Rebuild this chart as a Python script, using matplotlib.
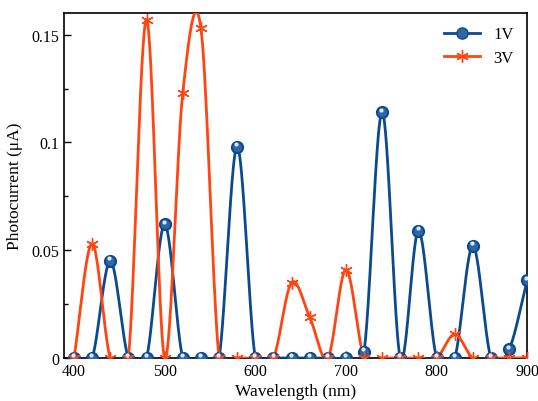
import numpy as np
import matplotlib
matplotlib.use("Agg")
from matplotlib import pyplot as plt

# Daten
wavelength = list(range(400, 901, 20))
current_1v = [0, 0, 0.045, 0, 0, 0.062, 0, 0, 0, 0.098, 0, 0, 0, 0, 0, 0,
              0.003, 0.114, 0, 0.059, 0, 0, 0.052, 0, 0.004, 0.036]
current_3v = [0, 0.053, 0, 0, 0.157, 0, 0.123, 0.153, 0, 0, 0, 0, 0.035, 0.019,
              0, 0.041, 0, 0, 0, 0, 0, 0.011, 0, 0, 0, 0]

BLUE = "#0b4a8e"
RED = "#ff4512"


def smooth_curve(x, y, n=60):
    # Catmull-Rom Spline durch alle Punkte
    x = np.asarray(x, float)
    y = np.asarray(y, float)
    d = np.gradient(y, x)
    xs_all, ys_all = [], []
    for i in range(len(x) - 1):
        h = x[i + 1] - x[i]
        s = np.linspace(0, 1, n, endpoint=(i == len(x) - 2))
        h00 = 2 * s**3 - 3 * s**2 + 1
        h10 = s**3 - 2 * s**2 + s
        h01 = -2 * s**3 + 3 * s**2
        h11 = s**3 - s**2
        xs_all.append(x[i] + s * h)
        ys_all.append(h00 * y[i] + h10 * h * d[i] + h01 * y[i + 1] + h11 * h * d[i + 1])
    return np.concatenate(xs_all), np.concatenate(ys_all)


plt.rcParams['font.family'] = ['Liberation Serif', 'DejaVu Serif']
fig = plt.figure(figsize=(5.38, 4.02), dpi=100)
ax = fig.add_axes([0.119, 0.107, 0.861, 0.858])

xs, ys = smooth_curve(wavelength, current_1v)
ax.plot(xs, ys, color=BLUE, lw=2.0, zorder=3)
ax.plot(wavelength, current_1v, 'o', ms=8, mfc="#2f66a8", mec=BLUE, mew=1.5, zorder=4)
ax.plot(np.array(wavelength) - 1, np.array(current_1v) + 0.0012, 'o', ms=3,
        mfc="#dfe9f5", mec="none", zorder=5)

xs, ys = smooth_curve(wavelength, current_3v)
ax.plot(xs, ys, color=RED, lw=2.0, zorder=3)
ax.plot(wavelength, current_3v, ls='none', ms=9, color=RED, mew=1.0, zorder=4,
        marker=(6, 2, 0))

# Legende
h1, = ax.plot([], [], color=BLUE, lw=2.0, marker='o', ms=8, mfc="#2f66a8", mec=BLUE)
h2, = ax.plot([], [], color=RED, lw=2.0, marker=(6, 2, 0), ms=9, mec=RED)
ax.legend([h1, h2], ["1V", "3V"], loc="upper right", frameon=False, fontsize=12,
          handlelength=2.2, borderaxespad=0.4, labelspacing=0.45)

ax.set_xlim(389, 900)
ax.set_ylim(0, 0.16)
ax.set_xticks([400, 500, 600, 700, 800, 900])
ax.set_yticks([0, 0.05, 0.1, 0.15])
ax.set_yticklabels(["0", "0.05", "0.1", "0.15"])
ax.set_yticks([0.025, 0.075, 0.125], minor=True)
ax.tick_params(direction='in', labelsize=11.5, length=5, width=1)
ax.tick_params(which='minor', direction='in', length=3, width=1)
ax.set_xlabel("Wavelength (nm)", fontsize=12.5, labelpad=3)
ax.set_ylabel("Photocurrent (μA)", fontsize=12.5, labelpad=6)
for s in ax.spines.values():
    s.set_linewidth(1.2)

fig.savefig("out.png", dpi=100)
